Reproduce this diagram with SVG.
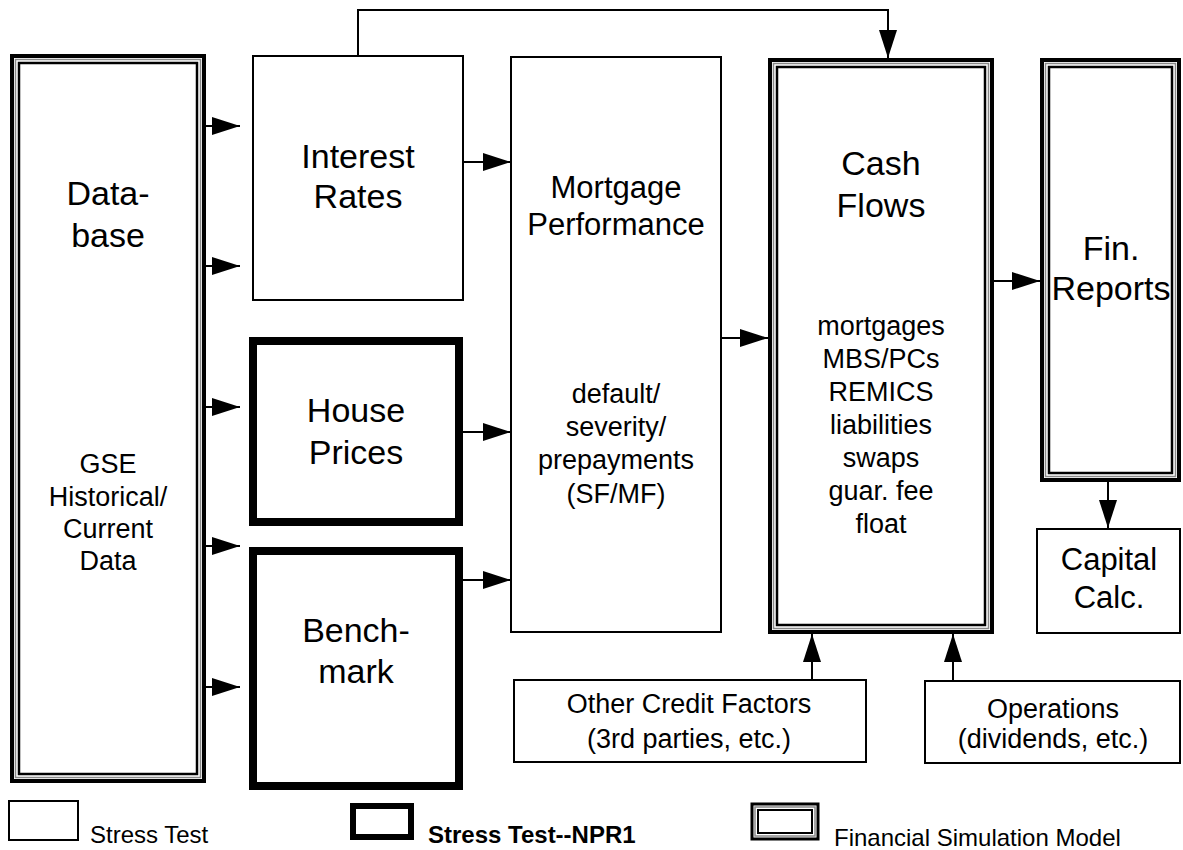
<svg xmlns="http://www.w3.org/2000/svg" width="1183" height="850" viewBox="0 0 1183 850">
<style>
text{font-family:"Liberation Sans",Arial,Helvetica,sans-serif;fill:#000;text-anchor:middle}
.t{font-size:34px}
.m{font-size:31px}
.s{font-size:27px}
.lg{font-size:24px;text-anchor:start}
.thin{fill:#fff;stroke:#000;stroke-width:2}
.thick{fill:#fff;stroke:#000;stroke-width:8}
.o{fill:#fff;stroke:#000;stroke-width:4}
.g{fill:none;stroke:#888;stroke-width:1.5}
.i{fill:none;stroke:#000;stroke-width:2.5}
.c{fill:none;stroke:#000;stroke-width:2}
</style>
<defs>
<marker id="ah" markerUnits="userSpaceOnUse" markerWidth="28" markerHeight="18" refX="28" refY="9" orient="auto">
<path d="M0,0 L28,9 L0,18 z" fill="#000"/>
</marker>
</defs>
<g id="database">
<rect class="o" x="12" y="56" width="192" height="725"/>
<rect class="g" x="15.5" y="59.5" width="185" height="718"/>
<rect class="i" x="19" y="63" width="178" height="711"/>
<text class="t" x="108" y="205">Data-</text>
<text class="t" x="108" y="247">base</text>
<text class="s" x="108" y="473">GSE</text>
<text class="s" x="108" y="506">Historical/</text>
<text class="s" x="108" y="538">Current</text>
<text class="s" x="108" y="570">Data</text>
</g>
<g id="interest-rates">
<rect class="thin" x="253" y="56" width="210" height="244"/>
<text class="t" x="358" y="168">Interest</text>
<text class="t" x="358" y="208">Rates</text>
</g>
<g id="house-prices">
<rect class="thick" x="253" y="341" width="206" height="181"/>
<text class="t" x="356" y="422">House</text>
<text class="t" x="356" y="464">Prices</text>
</g>
<g id="benchmark">
<rect class="thick" x="253" y="551" width="206" height="235"/>
<text class="t" x="356" y="642">Bench-</text>
<text class="t" x="356" y="683">mark</text>
</g>
<g id="mortgage-performance">
<rect class="thin" x="511" y="57" width="210" height="575"/>
<text class="m" x="616" y="198">Mortgage</text>
<text class="m" x="616" y="235">Performance</text>
<text class="s" x="616" y="403">default/</text>
<text class="s" x="616" y="436">severity/</text>
<text class="s" x="616" y="469">prepayments</text>
<text class="s" x="616" y="503">(SF/MF)</text>
</g>
<g id="cash-flows">
<rect class="o" x="770" y="60" width="222" height="572"/>
<rect class="g" x="773.5" y="63.5" width="215" height="565"/>
<rect class="i" x="777" y="67" width="208" height="558"/>
<text class="t" x="881" y="175">Cash</text>
<text class="t" x="881" y="217">Flows</text>
<text class="s" x="881" y="335">mortgages</text>
<text class="s" x="881" y="368">MBS/PCs</text>
<text class="s" x="881" y="401">REMICS</text>
<text class="s" x="881" y="434">liabilities</text>
<text class="s" x="881" y="467">swaps</text>
<text class="s" x="881" y="500">guar. fee</text>
<text class="s" x="881" y="533">float</text>
</g>
<g id="fin-reports">
<rect class="o" x="1042" y="60" width="137" height="420"/>
<rect class="g" x="1045.5" y="63.5" width="130" height="413"/>
<rect class="i" x="1049" y="67" width="123" height="406"/>
<text class="t" x="1111" y="260">Fin.</text>
<text class="t" x="1111" y="300">Reports</text>
</g>
<g id="capital-calc">
<rect class="thin" x="1037" y="529" width="143" height="104"/>
<text class="m" x="1109" y="570">Capital</text>
<text class="m" x="1109" y="608">Calc.</text>
</g>
<g id="other-credit-factors">
<rect class="thin" x="514" y="680" width="352" height="82"/>
<text class="s" x="689" y="713">Other Credit Factors</text>
<text class="s" x="689" y="748">(3rd parties, etc.)</text>
</g>
<g id="operations">
<rect class="thin" x="925" y="681" width="255" height="82"/>
<text class="s" x="1053" y="718">Operations</text>
<text class="s" x="1053" y="748">(dividends, etc.)</text>
</g>
<g id="connectors">
<path class="c" d="M206,126 H240" marker-end="url(#ah)"/>
<path class="c" d="M206,266 H240" marker-end="url(#ah)"/>
<path class="c" d="M206,407 H240" marker-end="url(#ah)"/>
<path class="c" d="M206,546 H240" marker-end="url(#ah)"/>
<path class="c" d="M206,687 H240" marker-end="url(#ah)"/>
<path class="c" d="M463,162 H511" marker-end="url(#ah)"/>
<path class="c" d="M463,432 H511" marker-end="url(#ah)"/>
<path class="c" d="M463,580 H511" marker-end="url(#ah)"/>
<path class="c" d="M721,338 H768" marker-end="url(#ah)"/>
<path class="c" d="M358,56 V10 H888 V58" marker-end="url(#ah)"/>
<path class="c" d="M994,281 H1040" marker-end="url(#ah)"/>
<path class="c" d="M1108,482 V528" marker-end="url(#ah)"/>
<path class="c" d="M812,680 V634" marker-end="url(#ah)"/>
<path class="c" d="M953,681 V634" marker-end="url(#ah)"/>
</g>
<g id="legend">
<rect class="thin" x="9" y="801" width="69" height="39"/>
<text class="lg" x="90" y="843">Stress Test</text>
<rect fill="#fff" stroke="#000" stroke-width="6" x="353" y="806" width="58" height="31"/>
<text class="lg" x="428" y="843" font-weight="bold">Stress Test--NPR1</text>
<rect fill="#fff" stroke="#000" stroke-width="3" x="752" y="804" width="66" height="35"/>
<rect class="g" x="755" y="807" width="60" height="29"/>
<rect fill="none" stroke="#000" stroke-width="2" x="758" y="810" width="54" height="23"/>
<text class="lg" x="834" y="846">Financial Simulation Model</text>
</g>
</svg>
